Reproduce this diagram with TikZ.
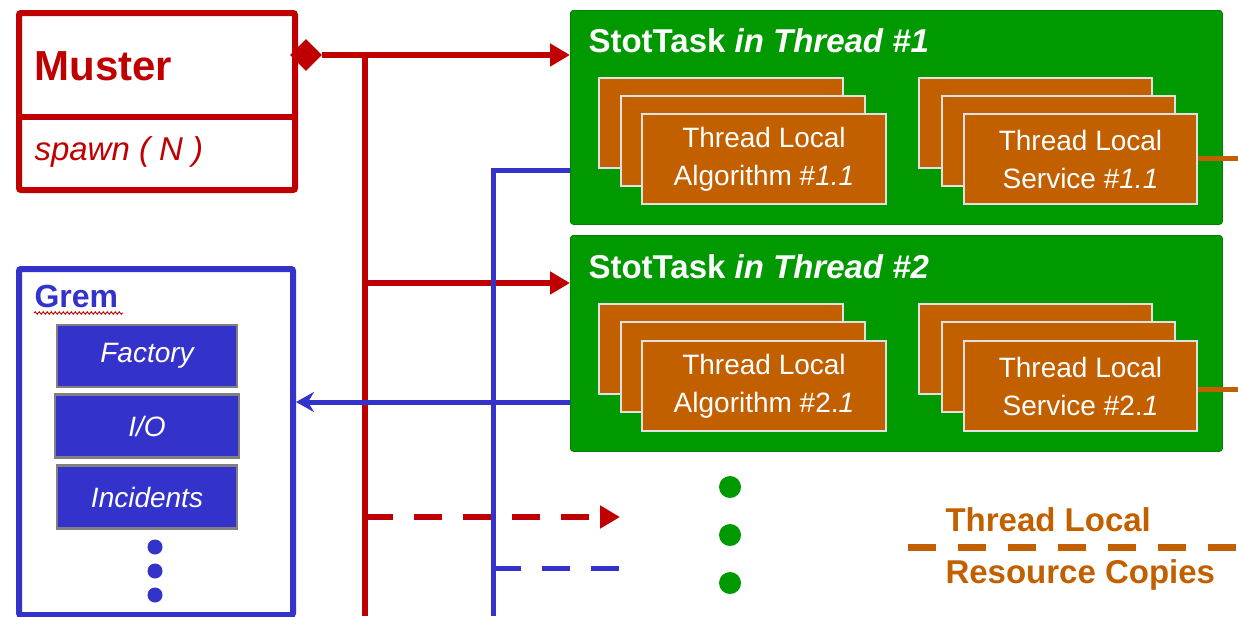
\documentclass[tikz,border=0pt]{standalone}
\usepackage{fontspec}
\setmainfont{Liberation Sans}
\usetikzlibrary{arrows.meta,shapes.geometric,decorations.pathmorphing}
\definecolor{mred}{RGB}{192,0,0}
\definecolor{mblue}{RGB}{51,51,204}
\definecolor{mgreen}{RGB}{0,153,0}
\definecolor{morange}{RGB}{194,96,0}
\definecolor{medge}{RGB}{225,225,225}
\tikzset{
  redline/.style={draw=mred, line width=6pt},
  blueline/.style={draw=mblue, line width=5pt},
  redarrow/.style={redline, -{Triangle[length=20pt,width=22pt]}},
  bluearrow/.style={blueline, -{Stealth[length=18pt,width=20pt,inset=6pt]}},
  dashpat/.style={dash pattern=on 28pt off 21pt},
  taskbox/.style={fill=mgreen, draw=mgreen!85!black, line width=0.8pt, rounded corners=3pt,
    minimum width=652pt, minimum height=214pt, anchor=north west, inner sep=0pt},
  copybox/.style={fill=morange, draw=medge, line width=2pt, minimum width=244pt,
    minimum height=90pt, anchor=north west, inner sep=0pt},
  frontbox/.style={copybox, text=white, align=center, font=\fontsize{28}{38}\selectfont},
  gremitem/.style={fill=mblue, draw=gray, line width=2.5pt, text=white,
    font=\fontsize{28}{32}\selectfont\itshape, inner sep=0pt},
  tasktitle/.style={anchor=west, text=white, font=\fontsize{33}{37}\selectfont\bfseries},
  legendtext/.style={anchor=west, text=morange, font=\fontsize{33}{38}\selectfont\bfseries},
  greendot/.style={circle, fill=mgreen, minimum size=22pt, inner sep=0pt},
  bluedot/.style={circle, fill=mblue, minimum size=15pt, inner sep=0pt},
}
\begin{document}
\begin{tikzpicture}[x=1pt,y=-1pt]
\useasboundingbox (0,0) rectangle (1238,616);

% Muster class box
\node[draw=mred, line width=6pt, rounded corners=2pt, minimum width=276pt, minimum height=177pt,
      anchor=north west, inner sep=0pt] (muster) at (16,10) {};
\coordinate (divL) at (16,117);
\coordinate (divR) at (292,117);
\draw[draw=mred, line width=6pt] (divL) -- (divR);
\node[anchor=west, text=mred, font=\fontsize{42}{46}\selectfont\bfseries] (mname) at (31,66) {Muster};
\node[anchor=west, text=mred, font=\fontsize{33}{38}\selectfont\itshape] (mspawn) at (31,152) {spawn ( N )};
\node[diamond, fill=mred, minimum width=32pt, minimum height=32pt, inner sep=0pt] (dia) at (306,55) {};

% Grem box with its services
\node[draw=mblue, line width=6pt, rounded corners=2pt, minimum width=274pt, minimum height=346pt,
      anchor=north west, inner sep=0pt] (grem) at (16,266) {};
\node[anchor=west, text=mblue, font=\fontsize{32}{36}\selectfont\bfseries] (gname) at (31,296) {Grem};
\coordinate (wavyL) at (34,313);
\coordinate (wavyR) at (123,313);
\draw[mred, line width=0.9pt, decorate, decoration={snake, amplitude=1.3pt, segment length=4pt}] (wavyL) -- (wavyR);
\node[gremitem, minimum width=180pt, minimum height=62pt] (factory) at (147,356) {Factory};
\node[gremitem, minimum width=184pt, minimum height=63pt] (io) at (147,426) {I/O};
\node[gremitem, minimum width=180pt, minimum height=63pt] (incidents) at (147,497) {Incidents};
\node[bluedot] (gd1) at (155,547) {};
\node[bluedot] (gd2) at (155,571) {};
\node[bluedot] (gd3) at (155,595) {};

% Task in thread 1
\node[taskbox] (t1) at (570,10) {};
\node[tasktitle] (t1title) at (585,41) {StotTask \textit{in Thread \#1}};
\node[copybox] (a1c) at (598,77) {};
\node[copybox] (a1b) at (620,95) {};
\node[frontbox] (a1) at (641,113) {Thread Local\\Algorithm \#\textit{1.1}};
\node[copybox, minimum width=233pt] (s1c) at (918,77) {};
\node[copybox, minimum width=233pt] (s1b) at (941,95) {};
\node[frontbox, minimum width=233pt] (s1) at (963,113) {Thread Local\\Service \#\textit{1.1}};

% Task in thread 2
\node[taskbox, minimum height=216pt] (t2) at (570,235) {};
\node[tasktitle] (t2title) at (585,267) {StotTask \textit{in Thread \#2}};
\node[copybox] (a2c) at (598,303) {};
\node[copybox] (a2b) at (620,321) {};
\node[frontbox] (a2) at (641,340) {Thread Local\\Algorithm \#2.\textit{1}};
\node[copybox, minimum width=233pt] (s2c) at (918,303) {};
\node[copybox, minimum width=233pt] (s2b) at (941,321) {};
\node[frontbox, minimum width=233pt] (s2) at (963,340) {Thread Local\\Service \#2.\textit{1}};

% further tasks
\node[greendot] (td1) at (730,487) {};
\node[greendot] (td2) at (730,535) {};
\node[greendot] (td3) at (730,583) {};

% Muster spawns the tasks
\coordinate (rtop) at (365,55);
\coordinate (rbot) at (365,616);
\coordinate (r2) at (365,283);
\coordinate (r3) at (365,517);
\coordinate (r3end) at (620,517);
\draw[redline] (rtop) -- (rbot);
\draw[redarrow] (dia.east) -- (dia.east -| t1.west);
\draw[redarrow] (r2) -- (r2 -| t2.west);
\draw[redarrow, dashpat] (r3) -- (r3end);

% tasks use Grem
\coordinate (btop) at (493,170);
\coordinate (bbot) at (493,616);
\coordinate (b2) at (570,402);
\coordinate (b3) at (493,568);
\coordinate (b3end) at (620,568);
\draw[blueline] (btop -| t1.west) -- (btop) -- (bbot);
\draw[bluearrow] (b2) -- (b2 -| grem.east);
\draw[blueline, dashpat] (b3) -- (b3end);

% thread local resource copies
\coordinate (o1) at (1238,158);
\coordinate (o2) at (1238,389);
\draw[morange, line width=5pt] (o1 -| s1.east) -- (o1);
\draw[morange, line width=5pt] (o2 -| s2.east) -- (o2);
\coordinate (legL) at (908,547);
\coordinate (legR) at (1238,547);
\draw[morange, line width=7pt, dash pattern=on 28pt off 22pt] (legL) -- (legR);
\node[legendtext] (leg1) at (942,520) {Thread Local};
\node[legendtext] (leg2) at (942,575) {Resource Copies};
\end{tikzpicture}
\end{document}
